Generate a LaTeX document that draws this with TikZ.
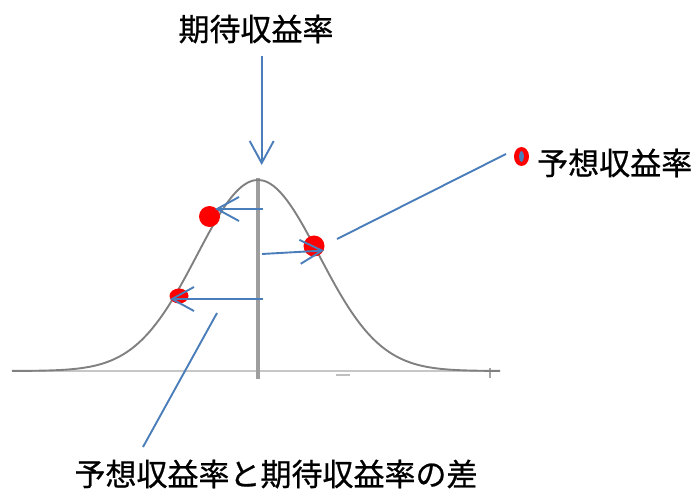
\documentclass[tikz,border=0pt]{standalone}
\usepackage{fontspec}
\newfontfamily\jpfont{Noto Sans CJK JP}[BoldFont={Noto Sans CJK JP}, BoldFeatures={FakeBold=0.7}]
\usetikzlibrary{arrows.meta,shapes.geometric}
\definecolor{cblue}{HTML}{4A7EBB}
\tikzset{
  blueline/.style={draw=cblue, line width=1.9pt},
  bluearrow/.style={blueline, -{Straight Barb[length=22pt, width=24pt, line width=1.9pt]}},
  dot/.style={circle, fill=red, inner sep=0pt, minimum size=21pt},
  label/.style={font=\jpfont\bfseries\fontsize{31}{33}\selectfont, inner sep=0pt},
  curve/.style={draw=black!50, line width=1.9pt},
  axisline/.style={draw=black!22, line width=2pt},
  meanline/.style={draw=black!38, line width=3.4pt}
}
\begin{document}
\begin{tikzpicture}[x=1pt,y=-1pt]
\useasboundingbox[fill=white] (0,0) rectangle (696,494);
% axis and curve
\draw[axisline] (12,371) -- (500,371);
\draw[draw=black!35, line width=2pt] (490,368) -- (490,378);
\draw[draw=black!25, line width=2pt] (336,375) -- (350,375);
\draw[meanline] (258,178) -- (258,379);
\draw[curve] plot[domain=12:500, samples=120, smooth] (\x, {371 - 191*exp(-0.5*((\x-258)/61)^2)});
% dots
\node[dot] (d1) at (209.5,216.5) {};
\node[dot] (d2) at (314,246) {};
\node[ellipse, fill=red, inner sep=0pt, minimum width=19pt, minimum height=15pt] (d3) at (179,296) {};
% arrow ends
\coordinate (s1) at (263,209);
\coordinate (s2) at (262,254);
\coordinate (s3) at (263,299);
\coordinate (e1) at (215,209);
\coordinate (e2) at (324,250.5);
\coordinate (e3) at (170,299);
\draw[bluearrow] (s1) -- (e1);
\draw[bluearrow] (s2) -- (e2);
\draw[bluearrow] (s3) -- (e3);
% top label
\node[label] (top) at (256,29) {期待収益率};
\coordinate (topstart) at (261.7,56);
\coordinate (topend) at (261.7,165);
\draw[bluearrow] (topstart) -- (topend);
% legend
\node[label, anchor=west] (leg) at (537,163) {予想収益率};
\node[ellipse, fill=red, inner sep=0pt, minimum width=15pt, minimum height=19pt] (mk) at (521.5,156.5) {};
\node[ellipse, fill=cblue, inner sep=0pt, minimum width=5pt, minimum height=11pt] (mki) at (521.5,156.5) {};
\coordinate (l1a) at (337,239);
\coordinate (l1b) at (506,154);
\draw[blueline] (l1a) -- (l1b);
% bottom label
\node[label] (bot) at (276,474) {予想収益率と期待収益率の差};
\coordinate (l2a) at (217,313);
\coordinate (l2b) at (143,447);
\draw[blueline] (l2a) -- (l2b);
\end{tikzpicture}
\end{document}
